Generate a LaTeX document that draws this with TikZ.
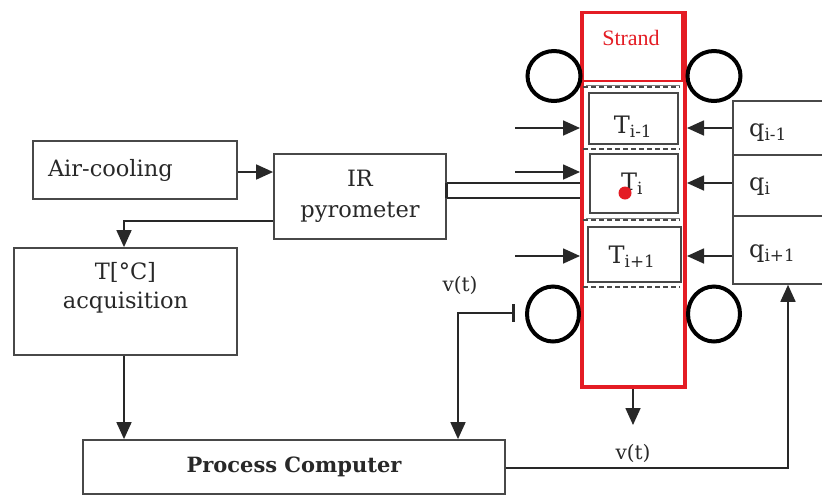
\documentclass[tikz,border=0pt]{standalone}
\usepackage{fontspec}
\setmainfont{DejaVu Serif}
\newfontfamily\timesf{Liberation Serif}
\usetikzlibrary{arrows.meta,shapes.geometric}
\definecolor{strandred}{RGB}{228,28,36}
\definecolor{ink}{RGB}{40,40,40}
\begin{document}
\begin{tikzpicture}[x=1pt,y=-1pt,
  box/.style={draw=ink!85, line width=1.8pt, inner sep=0pt, align=center, text=ink, font=\fontsize{22.5}{28}\selectfont},
  conn/.style={draw=ink, line width=1.7pt},
  arr/.style={conn, -{Triangle[length=17pt,width=15pt]}},
  roll/.style={draw=black, line width=4pt, ellipse, inner sep=0pt},
  dashline/.style={draw=ink!85, line width=1.4pt, dash pattern=on 5pt off 3pt},
  lbl/.style={text=ink, font=\fontsize{20}{22}\selectfont, inner sep=0pt},
  tlbl/.style={text=ink, font=\fontsize{24}{26}\selectfont, inner sep=0pt},
  qbox/.style={draw=ink!85, line width=1.6pt, inner sep=0pt, minimum width=110pt}]
\clip (0,0) rectangle (822,496);
\fill[white] (0,0) rectangle (822,496);

% left chain
\node[box, minimum width=204pt, minimum height=58pt, text width=174pt, align=left] (air) at (135,170) {Air-cooling};
\node[box, minimum width=172pt, minimum height=85pt] (ir) at (360,196.5) {IR\\[3pt]pyrometer};
\node[box, minimum width=223pt, minimum height=107pt] (tbox) at (125.5,301.5) {T[°C]\\[1pt]acquisition\\[4pt]};
\node[box, minimum width=422pt, minimum height=54pt, font=\fontsize{21}{24}\selectfont\bfseries] (pc) at (294,467) {Process Computer};

% strand column
\node[draw=strandred, line width=4pt, minimum width=103pt, minimum height=374pt, inner sep=0pt] (col) at (633.5,200) {};
\node[draw=strandred, fill=white, line width=2.5pt, minimum width=99pt, minimum height=68pt, inner sep=0pt] (strand) at (632.5,47) {};
\node[text=strandred, font=\timesf\fontsize{22}{24}\selectfont, inner sep=0pt] (strandtxt) at (631,38) {Strand};

% dashed separators
\foreach \yy in {87,149,220,287}{
  \draw[dashline] (col.west |- 0,\yy) ++(3,0) -- ++(97,0);
}
\draw[ink!60, line width=1pt] (586,85) -- (680,85);
\draw[ink!60, line width=1pt] (586,218) -- (680,218);

% element boxes
\node[draw=ink!85, line width=1.6pt, minimum width=89pt, minimum height=51pt, inner sep=0pt] (tb1) at (633.5,118.5) {};
\node[draw=ink!85, line width=1.6pt, minimum width=88pt, minimum height=59pt, inner sep=0pt] (tb2) at (634,183.5) {};
\node[draw=ink!85, line width=1.6pt, minimum width=93pt, minimum height=55pt, inner sep=0pt] (tb3) at (634.5,254.5) {};
\node[tlbl] (t1) at (633,127) {T\textsubscript{i-1}};
\node[tlbl] (t2) at (632,184) {T\textsubscript{i}};
\node[tlbl] (t3) at (632,257) {T\textsubscript{i+1}};
\node[circle, fill=strandred, minimum size=13pt, inner sep=0pt] (dot) at (625,193) {};

% rolls
\node[roll, minimum width=53pt, minimum height=50pt] (rollTL) at (554,76) {};
\node[roll, minimum width=53pt, minimum height=50pt] (rollTR) at (714,76) {};
\node[roll, minimum width=52pt, minimum height=55pt] (rollBL) at (553,314) {};
\node[roll, minimum width=52pt, minimum height=55pt] (rollBR) at (714,314) {};

% q boxes
\node[qbox, minimum height=54pt] (q1) at (788,128) {};
\node[qbox, minimum height=61pt] (q2) at (788,185.5) {};
\node[qbox, minimum height=68pt] (q3) at (788,250) {};
\node[tlbl, anchor=west] (ql1) at (749,133) {q\textsubscript{i-1}};
\node[tlbl, anchor=west] (ql2) at (749,187) {q\textsubscript{i}};
\node[tlbl, anchor=west] (ql3) at (749,254) {q\textsubscript{i+1}};

% arrows from left into strand
\coordinate (la1) at (515,128);
\coordinate (la2) at (515,172);
\coordinate (la3) at (515,256);
\draw[arr] (la1) -- (la1 -| col.west);
\draw[arr] (la2) -- (la2 -| col.west);
\draw[arr] (la3) -- (la3 -| col.west);

% arrows from q boxes into strand
\coordinate (ra1) at (733,128);
\coordinate (ra2) at (733,183);
\coordinate (ra3) at (733,256);
\draw[arr] (q1.west |- ra1) -- (ra1 -| col.east);
\draw[arr] (q2.west |- ra2) -- (ra2 -| col.east);
\draw[arr] (q3.west |- ra3) -- (ra3 -| col.east);

% IR pyrometer double line
\coordinate (ya) at (0,183);
\coordinate (yb) at (0,198);
\draw[conn] (ir.east |- ya) -- (col.west |- ya);
\draw[conn] (ir.east |- yb) -- (col.west |- yb);
\draw[ink, line width=3pt] (ir.east |- ya) -- (ir.east |- yb);

% left chain arrows
\draw[arr] (air.east |- 0,172) -- (ir.west |- 0,172);
\draw[arr] ([yshift=-24.5pt]ir.west) -| ([xshift=-1.5pt]tbox.north);
\draw[arr] ([xshift=-1.5pt]tbox.south) -- ([xshift=-1.5pt]tbox.south |- pc.north);

% roll speed to computer
\coordinate (vx) at (458,313);
\draw[conn, {Bar[width=18pt,line width=3.5pt]}-{Triangle[length=17pt,width=15pt]}] ([xshift=-10pt]rollBL.west |- vx) -- (vx) -- (vx |- pc.north);
\node[lbl] (v1) at (460,285) {v(t)};

% strand withdrawal
\draw[arr] ([xshift=-0.5pt]col.south) -- ++(0,36);
\node[lbl] (v2) at (633,453) {v(t)};

% computer to q boxes
\draw[arr] (pc.east |- 0,468) -| (q3.south);
\end{tikzpicture}
\end{document}
